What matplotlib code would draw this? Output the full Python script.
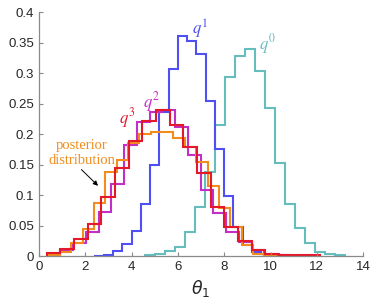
import matplotlib
matplotlib.use("Agg")
import matplotlib.pyplot as plt
import numpy as np

# histogram values (density), one set of bin edges per series
q0_start, q0_width = 4.6, 0.43
q0_vals = [0.001, 0.003, 0.008, 0.015, 0.040, 0.081, 0.138, 0.215, 0.294, 0.328,
           0.339, 0.304, 0.243, 0.152, 0.085, 0.046, 0.022, 0.007, 0.003, 0.001]

q1_start, q1_width = 2.4, 0.40
q1_vals = [0.0005, 0.002, 0.009, 0.020, 0.041, 0.085, 0.150, 0.236, 0.307, 0.361,
           0.352, 0.332, 0.255, 0.175, 0.098, 0.048, 0.018, 0.007, 0.003, 0.001]

q2_start, q2_width = 0.38, 0.55
q2_vals = [0.003, 0.010, 0.022, 0.040, 0.073, 0.118, 0.182, 0.220, 0.237, 0.240,
           0.212, 0.166, 0.109, 0.070, 0.040, 0.023, 0.010, 0.003, 0.001, 0.0005]

q3_start, q3_width = 0.33, 0.59
q3_vals = [0.005, 0.011, 0.028, 0.053, 0.097, 0.144, 0.189, 0.222, 0.239, 0.215,
           0.179, 0.136, 0.080, 0.048, 0.024, 0.010, 0.004, 0.002, 0.001, 0.001]

post_start, post_width = 0.42, 0.49
post_vals = [0.002, 0.007, 0.022, 0.045, 0.087, 0.137, 0.157, 0.186, 0.200, 0.203,
             0.203, 0.194, 0.179, 0.155, 0.115, 0.078, 0.048, 0.018, 0.004, 0.001]

x_ticks = [0, 2, 4, 6, 8, 10, 12, 14]
y_ticks = [0, 0.05, 0.1, 0.15, 0.2, 0.25, 0.3, 0.35, 0.4]
y_ticklabels = ["0", "0.05", "0.1", "0.15", "0.2", "0.25", "0.3", "0.35", "0.4"]

c_q0 = "#66bdbd"
c_q1 = "#4f4ff2"
c_q2 = "#c22ec6"
c_q3 = "#e3192b"
c_post = "#f28c1c"


def edges(start, width, n):
    return start + width * np.arange(n + 1)


plt.rcParams["font.family"] = ["Liberation Sans", "DejaVu Sans"]
fig = plt.figure(figsize=(3.74, 3.03), dpi=100)
ax = fig.add_axes([0.104, 0.155, 0.867, 0.805])

lw = 1.5
ax.stairs(q0_vals, edges(q0_start, q0_width, len(q0_vals)), color=c_q0, lw=lw)
ax.stairs(q1_vals, edges(q1_start, q1_width, len(q1_vals)), color=c_q1, lw=lw)
ax.stairs(q2_vals, edges(q2_start, q2_width, len(q2_vals)), color=c_q2, lw=lw)
ax.stairs(post_vals, edges(post_start, post_width, len(post_vals)), color=c_post, lw=lw)
ax.stairs(q3_vals, edges(q3_start, q3_width, len(q3_vals)), color=c_q3, lw=lw)

ax.set_xlim(0, 14)
ax.set_ylim(0, 0.4)
ax.set_xticks(x_ticks)
ax.set_yticks(y_ticks)
ax.set_yticklabels(y_ticklabels)
ax.tick_params(direction="in", length=3, width=0.8, colors="#8a8a8a",
               labelcolor="#262626", labelsize=9.5)
for s in ["top", "right"]:
    ax.spines[s].set_visible(False)
for s in ["left", "bottom"]:
    ax.spines[s].set_color("#8a8a8a")
    ax.spines[s].set_linewidth(0.9)

ax.set_xlabel(r"$\theta_1$", fontsize=12.5, color="#262626", labelpad=4)

ax.text(6.97, 0.372, r"$q^1$", color=c_q1, ha="center", va="center",
        fontsize=12, math_fontfamily="stix")
ax.text(9.87, 0.347, r"$q^0$", color=c_q0, ha="center", va="center",
        fontsize=12, math_fontfamily="stix")
ax.text(4.85, 0.252, r"$q^2$", color=c_q2, ha="center", va="center",
        fontsize=12, math_fontfamily="stix")
ax.text(3.8, 0.226, r"$q^3$", color=c_q3, ha="center", va="center",
        fontsize=12, math_fontfamily="stix")

ax.text(1.86, 0.181, "posterior", color=c_post, ha="center", va="center",
        family=["Liberation Serif", "DejaVu Serif"], fontsize=10.5)
ax.text(1.86, 0.157, "distribution", color=c_post, ha="center", va="center",
        family=["Liberation Serif", "DejaVu Serif"], fontsize=10.5)
ax.annotate("", xy=(2.64, 0.112), xytext=(1.75, 0.145),
            arrowprops=dict(arrowstyle="-|>", color="black", lw=0.7,
                            mutation_scale=7))

fig.savefig("out.png", dpi=100)
